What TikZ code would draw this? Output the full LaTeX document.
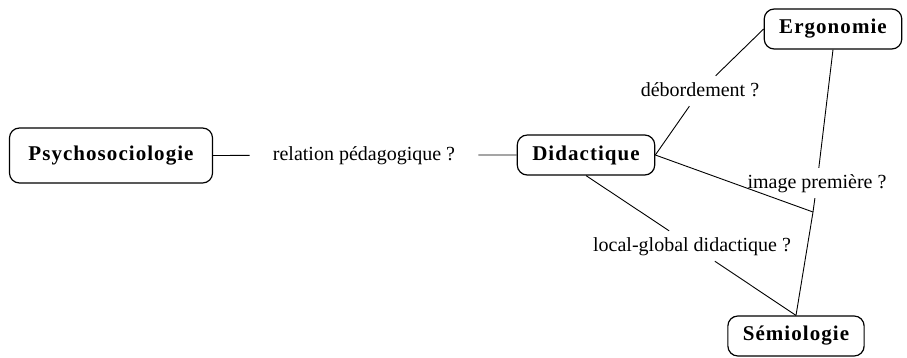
\documentclass[tikz,border=0pt]{standalone}
\usepackage{fontspec}
\setmainfont{Liberation Serif}
\newfontface\domainfont[LetterSpace=5]{Liberation Serif Bold}
\colorlet{myline}{black}

\begin{document}
\begin{tikzpicture}[x=1pt,y=-1pt]
\useasboundingbox (0,0) rectangle (907,357);
\tikzset{DomainStyle/.style ={draw=myline, line width=1.2pt, rounded corners=10pt,
  minimum height=40pt, inner xsep=15pt, font=\fontsize{21}{24}\domainfont}}
\tikzset{RelStyle/.style ={inner xsep=23pt, inner ysep=6pt, text height=14pt, text depth=4pt,
  font=\fontsize{20}{22}\selectfont}}
\tikzset{EdgeStyle/.style ={draw=myline, line width=0.9pt}}
% domains
\node[DomainStyle, minimum height=55pt, inner xsep=19pt] (psy) at (111,155.5) {Psychosociologie};
\node[DomainStyle] (did) at (586,155) {Didactique};
\node[DomainStyle] (erg) at (833,29) {Ergonomie};
\node[DomainStyle] (sem) at (796,336) {Sémiologie};
% relations
\node[RelStyle] (rel) at (364,155) {relation pédagogique ?};
\node[RelStyle] (deb) at (700,91) {débordement ?};
\node[RelStyle] (img) at (817,183) {image première ?};
\node[RelStyle] (loc) at (692,246) {local-global didactique ?};
\coordinate (jct) at (813,212);
\path[EdgeStyle] (psy.east) -- (rel) -- (did.west);
\path[EdgeStyle] (did.east) -- (deb) -- (erg.west);
\path[EdgeStyle] (erg.south) -- (img) -- (jct) -- (sem.north);
\path[EdgeStyle] (did.east) -- (jct);
\path[EdgeStyle] (did.south) -- (loc) -- (sem.north);
\end{tikzpicture}
\end{document}
